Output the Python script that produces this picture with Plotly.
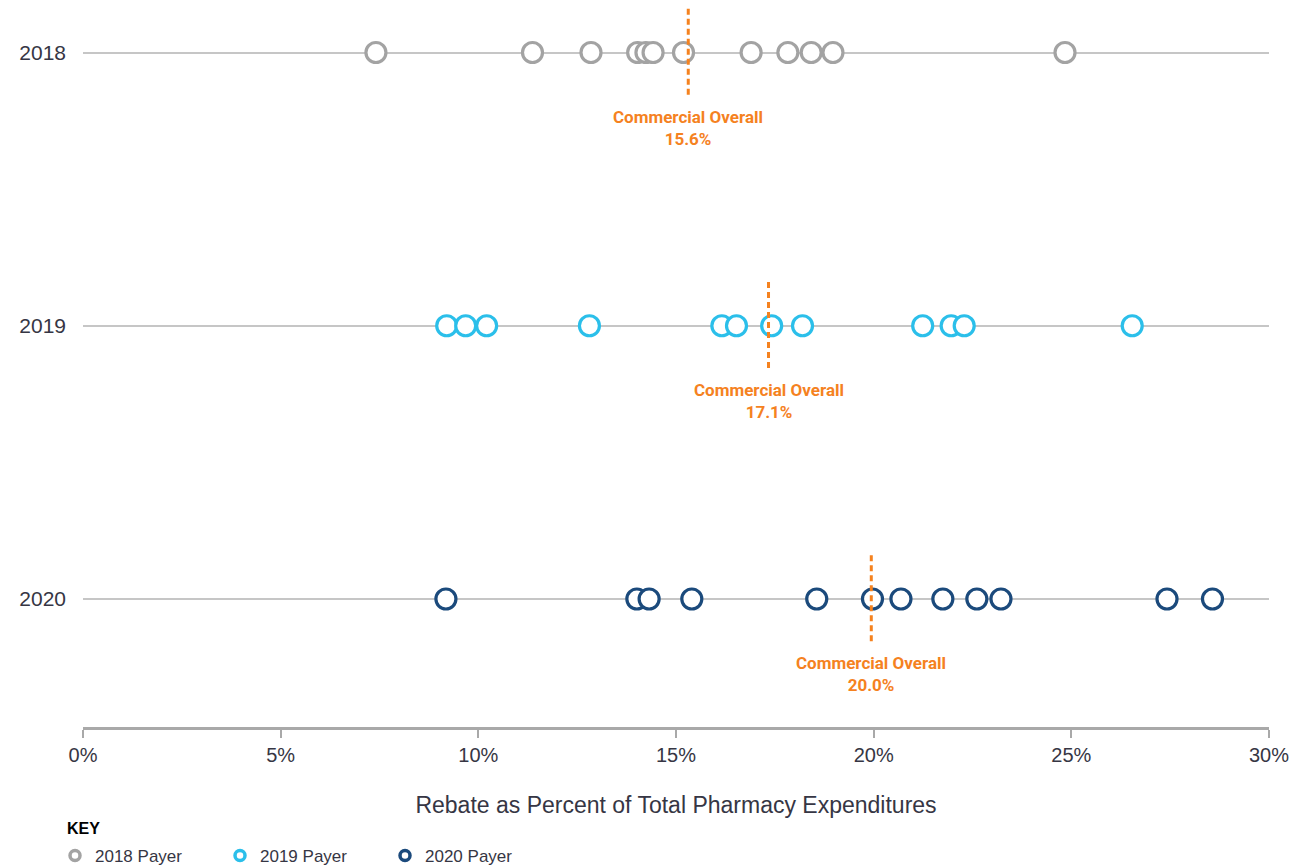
import plotly.graph_objects as go

years = ["2018", "2019", "2020"]
series_names = ["2018 Payer", "2019 Payer", "2020 Payer"]
colors = ["#a3a3a3", "#2bbfea", "#1b4a7c"]

vals_2018 = [7.41, 11.37, 12.85, 14.03, 14.24, 14.42, 15.19, 16.90, 17.83, 18.42, 18.97, 24.84]
vals_2019 = [9.20, 9.68, 10.21, 12.81, 16.16, 16.53, 17.42, 18.20, 21.24, 21.96, 22.29, 26.54]
vals_2020 = [9.18, 14.01, 14.32, 15.40, 18.56, 19.97, 20.69, 21.75, 22.61, 23.22, 27.42, 28.57]
series_vals = [vals_2018, vals_2019, vals_2020]

overall_pos = [15.31, 17.34, 19.94]
overall_labels = ["15.6%", "17.1%", "20.0%"]

x_ticks = [0, 5, 10, 15, 20, 25, 30]
x_tick_text = ["0%", "5%", "10%", "15%", "20%", "25%", "30%"]

TEXT = "#363644"
ORANGE = "#f5821f"
FONT = "Liberation Sans, Arial, sans-serif"

fig = go.Figure()

for i, (yr, vals, col) in enumerate(zip(years, series_vals, colors)):
    fig.add_trace(go.Scatter(
        x=vals, y=[i] * len(vals), mode="markers",
        marker=dict(symbol="circle", size=20, color="white",
                    line=dict(color=col, width=3.2)),
        showlegend=False, hoverinfo="x",
    ))

# legend-only entries
for name, col in zip(series_names, colors):
    fig.add_trace(go.Scatter(
        x=[None], y=[None], mode="markers", name=name,
        marker=dict(symbol="circle", size=10, color="white",
                    line=dict(color=col, width=3.5)),
        showlegend=True,
    ))

for i, (xp, lab) in enumerate(zip(overall_pos, overall_labels)):
    fig.add_shape(type="line", x0=xp, x1=xp, y0=i - 0.16, y1=i + 0.155,
                  xref="x", yref="y",
                  line=dict(color=ORANGE, width=3, dash="6px,4px"), layer="above")
    fig.add_annotation(x=xp, y=i + 0.275, xref="x", yref="y",
                       text="<b>Commercial Overall<br>" + lab + "</b>",
                       showarrow=False, xanchor="center", yanchor="middle",
                       font=dict(family="Liberation Sans Narrow, Roboto, sans-serif",
                                 size=17, color=ORANGE),
                       align="center")

fig.add_annotation(x=-0.0152, y=-0.1405, xref="paper", yref="paper",
                   text="<b>KEY</b>", showarrow=False, xanchor="left", yanchor="middle",
                   font=dict(family=FONT, size=16, color="#000000"))

fig.update_layout(
    width=1301, height=866,
    margin=dict(l=75, r=40, t=0, b=147),
    paper_bgcolor="white", plot_bgcolor="white",
    font=dict(family=FONT, color=TEXT, size=18),
    xaxis=dict(range=[0, 30], tickvals=x_ticks, ticktext=x_tick_text,
               showgrid=False, zeroline=False,
               showline=True, linecolor="#a9a9a9", linewidth=2.5,
               ticks="outside", ticklen=8, tickcolor="#a9a9a9", tickwidth=1.5,
               tickfont=dict(size=20, color=TEXT),
               title=dict(text="Rebate as Percent of Total Pharmacy Expenditures",
                          font=dict(size=23, color=TEXT), standoff=33)),
    yaxis=dict(range=[2.4684, -0.1629], tickvals=[0, 1, 2], ticktext=years,
               showgrid=True, gridcolor="#c6c6c6", gridwidth=1.5,
               zeroline=False, showline=False, ticks="",
               ticklabelstandoff=16,
               tickfont=dict(size=21, color=TEXT)),
    legend=dict(orientation="h", x=-0.0236, xanchor="left", y=-0.2045, yanchor="bottom",
                font=dict(size=17, color=TEXT), entrywidth=120, entrywidthmode="pixels",
                itemclick=False, bgcolor="rgba(0,0,0,0)"),
    showlegend=True,
)

fig.write_html("out.html")
